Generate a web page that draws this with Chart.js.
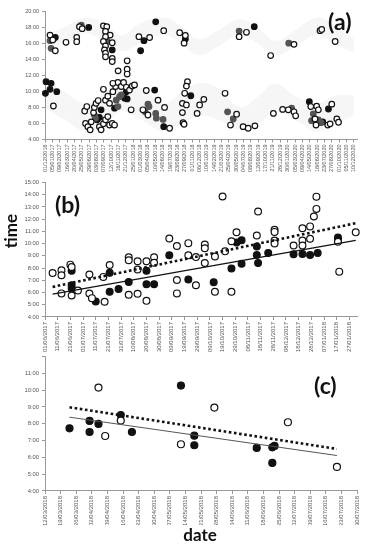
<!DOCTYPE html>
<html>
<head>
<meta charset="utf-8">
<script src="https://cdn.jsdelivr.net/npm/chart.js@4.4.0/dist/chart.umd.min.js"></script>
<style>
  html, body { margin: 0; padding: 0; background: #fff; }
  body { width: 376px; height: 550px; position: relative; overflow: hidden; font-family: 'Lato', sans-serif; }
  canvas { position: absolute; left: 0; }
  .tag { position: absolute; font-weight: 700; color: #111; line-height: 1; white-space: nowrap; }
</style>
</head>
<body>
<canvas id="chartA" width="376" height="178" style="top:0"></canvas>
<canvas id="chartB" width="376" height="180" style="top:176px"></canvas>
<canvas id="chartC" width="376" height="175" style="top:350px"></canvas>

<div class="tag" style="left:328px;top:10px;font-size:23px">(a)</div>
<div class="tag" style="left:55px;top:193px;font-size:23px">(b)</div>
<div class="tag" style="left:314px;top:374px;font-size:23px">(c)</div>
<div class="tag" style="left:10px;top:231px;font-size:17px;transform:translate(-50%,-50%) rotate(-90deg)">time</div>
<div class="tag" style="left:200px;top:534px;font-size:17px;transform:translate(-50%,-50%)">date</div>

<script>
// ---- x tick labels (one per major unit) ----
const ticksA = ['01/12/2016','05/01/2017','09/02/2017','16/03/2017','20/04/2017','25/05/2017','29/06/2017',
  '03/08/2017','07/09/2017','12/10/2017','16/11/2017','21/12/2017','25/01/2018','01/03/2018','05/04/2018',
  '10/05/2018','14/06/2018','19/07/2018','23/08/2018','27/09/2018','01/11/2018','06/12/2018','10/01/2019',
  '14/02/2019','21/03/2019','25/04/2019','30/05/2019','04/07/2019','08/08/2019','12/09/2019','17/10/2019',
  '21/11/2019','26/12/2019','30/01/2020','05/03/2020','09/04/2020','14/05/2020','18/06/2020','23/07/2020',
  '27/08/2020','01/10/2020','05/11/2020','10/12/2020'];
const ticksB = ['01/06/2017','11/06/2017','21/06/2017','01/07/2017','11/07/2017','21/07/2017','31/07/2017',
  '10/08/2017','20/08/2017','30/08/2017','09/09/2017','19/09/2017','29/09/2017','09/10/2017','19/10/2017',
  '29/10/2017','08/11/2017','18/11/2017','28/11/2017','08/12/2017','18/12/2017','28/12/2017','07/01/2018',
  '17/01/2018','27/01/2018'];
const ticksC = ['12/03/2018','19/03/2018','26/03/2018','02/04/2018','09/04/2018','16/04/2018','23/04/2018',
  '30/04/2018','07/05/2018','14/05/2018','21/05/2018','28/05/2018','04/06/2018','11/06/2018','18/06/2018',
  '25/06/2018','02/07/2018','09/07/2018','16/07/2018','23/07/2018','30/07/2018'];

// ---- panel (a): [days since 01/12/2016, hour of day] ----
const aOpen = [[24,17.0],[37,16.4],[49,15.05],[40,8.17],
  [100,16.1],[151,16.72],[151,16.18],[164,18.05],[177,17.8],
  [189,7.55],[199,8.1],[193,6.0],[204,5.6],[215,5.2],[220,6.2],[231,7.35],[235,8.0],[243,8.5],[253,8.85],
  [259,5.6],[267,5.2],[278,5.95],[288,6.45],[299,6.85],[307,5.8],[320,6.0],[331,5.8],[278,10.25],[288,8.9],
  [299,9.4],[307,8.5],[323,9.95],[336,10.6],[347,11.1],[363,10.6],[374,11.1],[387,10.5],[402,10.15],
  [415,10.65],[426,10.8],[410,7.7],[348,12.55],[391,13.8],[391,12.75],[391,12.15],[323,11.0],
  [278,18.15],[294,18.05],[288,17.45],[310,17.0],[288,16.8],[278,16.2],[320,16.05],[288,15.65],[283,15.15],
  [288,14.75],[288,14.3],[320,14.1],[320,13.7],
  [447,16.8],[498,16.7],[565,17.55],[482,10.1],[538,8.9],[569,8.0],[466,7.7],[490,7.05],[593,5.4],
  [641,17.3],[668,16.95],[662,16.0],[678,11.2],[673,10.65],[665,9.75],[654,8.5],[673,8.3],[654,7.35],
  [657,6.1],[662,5.9],[724,7.25],[736,8.3],[756,9.0],
  [857,9.75],[912,7.15],[883,5.8],[943,5.6],[967,5.4],[999,5.7],[924,16.8],[959,17.35],
  [1074,14.45],[1185,15.85],[1087,7.25],[1131,7.75],[1158,7.7],[1185,7.45],[1193,6.95],
  [1309,17.55],[1317,17.7],[1381,16.2],[1265,8.1],[1293,8.15],[1301,7.7],[1365,8.4],[1285,6.55],
  [1290,5.8],[1346,5.8],[1357,5.95],[1389,6.55],[1397,6.15]];
const aBlack = [[49,16.7],[5,11.2],[29,11.0],[2,9.75],[24,10.25],[56,9.95],[208,17.95],[248,6.45],[259,6.75],
  [267,7.7],[331,7.9],[379,9.15],[391,9.05],[387,9.95],[320,15.15],[471,16.3],[455,15.05],[527,18.65],
  [522,10.15],[565,5.6],[668,16.5],[694,9.45],[996,18.05],[1258,8.7],[1349,7.8],[1322,6.2]];
const aGrey = [[24,16.3],[29,15.35],[173,18.25],[240,6.65],[235,7.05],[294,16.3],[339,8.9],[355,9.35],
  [347,8.1],[363,9.55],[490,8.4],[477,7.45],[495,8.1],[527,7.25],[562,6.5],[530,6.65],[869,7.45],
  [896,6.55],[924,17.5],[1160,16.0],[1174,7.9],[1277,7.2],[1269,6.35],[1301,6.45],[1314,6.1]];

// faint background bands in (a)
const bandDays = [0,90,200,290,365,455,565,655,730,820,930,1020,1095,1185,1296,1385,1470];
const duskHigh = [17.0,18.0,19.2,18.3,17.0,18.5,19.2,18.0,16.5,17.5,19.0,17.8,16.3,17.5,19.2,18.0,16.5];
const duskLow  = [15.3,16.0,17.2,16.0,15.0,16.0,17.0,15.8,14.5,15.5,17.0,15.8,14.5,15.5,17.0,15.8,14.8];
const dawnHigh = [11.5,10.0,8.5,10.0,11.5,10.5,8.5,10.0,11.0,10.5,8.0,9.5,11.0,9.5,8.5,9.5,9.5];
const dawnLow  = [8.0,6.5,5.0,6.0,7.5,6.5,5.0,6.0,7.0,6.5,5.2,6.0,7.5,6.5,5.0,6.0,7.0];

// ---- panel (b): [days since 01/06/2017, hour] ----
const bOpen = [[6,7.6],[13,7.82],[13,7.41],[20,8.28],[21,8.09],[13,5.93],[21,5.76],[26,6.17],[35,7.47],
  [35,5.92],[37,5.54],[46,7.28],[47,5.25],[51,8.25],[66,8.89],[66,8.64],[66,5.82],[73,8.56],[73,7.89],
  [73,5.9],[80,8.56],[80,5.32],[86,8.88],[86,8.44],[98,10.42],[104,9.8],[104,7.02],[104,5.93],[113,10.04],
  [113,9.04],[119,8.9],[119,6.6],[126,9.92],[126,9.62],[126,8.42],[134,8.95],[134,6.07],[140,13.85],
  [142,9.37],[147,10.19],[147,6.06],[151,10.93],[168,12.63],[167,10.67],[181,11.14],[181,10.96],
  [181,10.26],[181,10.02],[196,9.85],[203,11.26],[203,10.26],[203,9.85],[209,11.41],[209,10.4],
  [212,12.22],[214,12.84],[214,13.84],[231,10.15],[232,7.71],[245,10.92]];
const bBlack = [[21,7.78],[21,6.6],[21,6.35],[40,5.27],[51,7.62],[51,6.06],[58,6.28],[66,6.86],[80,7.78],
  [80,6.68],[86,6.68],[98,9.05],[113,7.07],[133,6.84],[147,7.96],[151,10.1],[155,10.28],[155,8.35],
  [167,9.76],[167,9.06],[168,8.41],[176,9.24],[196,9.13],[203,9.16],[209,9.06],[215,9.24],[231,10.5],
  [231,10.32]];
const bSolidTrend = [[6,5.87],[245,10.26]];
const bDottedTrend = [[6,6.46],[245,11.67]];

// ---- panel (c): [days since 12/03/2018, hour] ----
const cOpen = [[24,10.15],[27,7.27],[34,8.19],[61,6.78],[76,8.96],[109,8.09],[131,5.43]];
const cBlack = [[11,7.73],[20,8.17],[20,7.51],[24,7.99],[34,8.52],[39,7.51],[61,10.27],[67,7.29],
  [67,6.72],[95,6.56],[102,6.6],[103,6.68],[102,5.67]];
const cSolidTrend = [[11,8.39],[131,6.11]];
const cDottedTrend = [[11,8.98],[131,6.5]];

const FONT = "'Liberation Sans', Arial, sans-serif";
const toXY = arr => arr.map(([x, y]) => ({ x, y }));

function pointSet(data, fill, r) {
  return {
    data: toXY(data), showLine: false, clip: false,
    pointRadius: r, pointHoverRadius: r,
    pointBackgroundColor: fill, pointBorderColor: fill === '#fff' ? '#111' : fill,
    pointBorderWidth: 1.2
  };
}

function lineSet(data, opts) {
  return {
    data: toXY(data), showLine: true, pointRadius: 0, fill: false,
    borderColor: opts.color || '#111', borderWidth: opts.width, borderDash: opts.dash || [],
    order: -1
  };
}

function makeScales(o) {
  return {
    x: {
      type: 'linear', min: 0, max: o.xMax,
      afterBuildTicks: axis => { axis.ticks = o.labels.map((_, i) => ({ value: i * o.step })); },
      afterFit: axis => { axis.height = o.xHeight; },
      ticks: {
        autoSkip: false, minRotation: 90, maxRotation: 90, padding: 2,
        font: { family: FONT, size: o.xFont }, color: '#555',
        callback: (v, i) => o.labels[i]
      },
      grid: { drawOnChartArea: false, tickLength: 3, color: '#999' },
      border: { color: '#999' }
    },
    y: {
      min: o.yMin, max: o.yMax,
      ticks: {
        stepSize: 1, padding: 3,
        font: { family: FONT, size: o.yFont }, color: '#555',
        callback: v => (v === o.hideY ? '' : v + ':00')
      },
      afterFit: axis => { axis.width = 45; },
      grid: { drawOnChartArea: false, tickLength: 3, color: '#999' },
      border: { color: '#999' }
    }
  };
}

function makeChart(id, datasets, padTop, scaleOpts) {
  return new Chart(document.getElementById(id), {
    type: 'scatter',
    data: { datasets },
    options: {
      responsive: false, animation: false,
      layout: { padding: { top: padTop, right: 19, left: 0, bottom: 0 } },
      plugins: { legend: { display: false }, tooltip: { enabled: false } },
      scales: makeScales(scaleOpts)
    }
  });
}

// band datasets for (a)
function bandSet(vals, fillTo) {
  return {
    data: bandDays.map((d, i) => ({ x: d, y: vals[i] })),
    showLine: true, pointRadius: 0, borderWidth: 0, tension: 0.4,
    fill: fillTo, backgroundColor: 'rgba(0,0,0,0.035)', order: 10
  };
}

makeChart('chartA', [
  pointSet(aOpen, '#fff', 2.8),
  pointSet(aGrey, '#555', 2.8),
  pointSet(aBlack, '#111', 2.8),
  bandSet(duskHigh, '+1'), bandSet(duskLow, false),
  bandSet(dawnHigh, '+1'), bandSet(dawnLow, false)
], 11, { labels: ticksA, step: 35, xMax: 1485, xHeight: 38.5, xFont: 5.5, yMin: 4, yMax: 20, yFont: 5.5 });

makeChart('chartB', [
  lineSet(bDottedTrend, { width: 2.6, dash: [2.6, 2.6] }),
  lineSet(bSolidTrend, { width: 1.2 }),
  pointSet(bOpen, '#fff', 3.4),
  pointSet(bBlack, '#111', 3.4)
], 6, { labels: ticksB, step: 10, xMax: 246, xHeight: 39, xFont: 6, yMin: 4, yMax: 15, yFont: 5.8 });

makeChart('chartC', [
  lineSet(cDottedTrend, { width: 2.6, dash: [2.6, 2.6] }),
  lineSet(cSolidTrend, { width: 1, color: '#555' }),
  pointSet(cOpen, '#fff', 3.5),
  pointSet(cBlack, '#111', 3.5)
], 6, { labels: ticksC, step: 7, xMax: 140, xHeight: 34, xFont: 6, yMin: 4, yMax: 12, yFont: 5.8, hideY: 12 });
</script>
</body>
</html>
